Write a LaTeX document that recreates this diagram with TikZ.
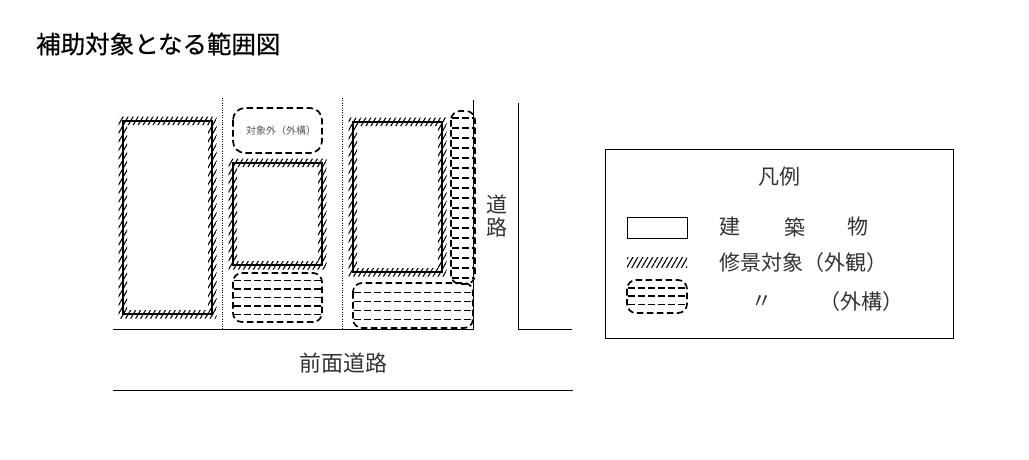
\documentclass[tikz,border=0pt]{standalone}
\usepackage{fontspec}
\newfontfamily\jp{Noto Sans CJK JP}
\newfontfamily\jpt[FakeBold=0.6]{Noto Sans CJK JP}
\usetikzlibrary{patterns.meta}
\newcommand\hbldg[4]{%
  \fill[hatch,even odd rule] (#1-4.5,#2-4.5) rectangle (#3+4.5,#4+4.5) (#1+4,#2+4) rectangle (#3-4,#4-4);
  \draw[bldg] (#1,#2) rectangle (#3,#4);}
\newcommand\extr[5]{%
  \begin{scope}
    \clip[rounded corners=9pt] (#1,#2) rectangle (#3,#4);
    \foreach \yy in {#5} \draw[rowline] (#1+1,\yy) -- (#3,\yy);
  \end{scope}
  \draw[ext] (#1,#2) rectangle (#3,#4);}
\begin{document}
\begin{tikzpicture}[x=1pt,y=-1pt,
  hatch/.style={pattern={Lines[angle=60,distance=4.3pt,line width=1.1pt]}},
  bldg/.style={draw,line width=1.4pt},
  ext/.style={draw,line width=1.7pt,dash pattern=on 6.5pt off 3.5pt,rounded corners=9pt},
  rowline/.style={line width=1.7pt,dash pattern=on 6.5pt off 3.5pt},
  lbl/.style={font=\jp\fontsize{21}{25}\selectfont,text=black!80,inner sep=0pt},
  dotline/.style={line width=0.7pt,dash pattern=on 0.8pt off 1.6pt},
]
\useasboundingbox (0,0) rectangle (1029,459);

% title
\node[lbl,anchor=west,text=black,font=\jpt\fontsize{24.5}{28}\selectfont] (title) at (36,44) {補助対象となる範囲図};

% roads
\draw[line width=1pt] (113,329.5) -- (473,329.5);
\draw[line width=1pt] (473,100) -- (473,329.5);
\draw[line width=1pt] (518,103) -- (518,329.5) -- (572,329.5);
\draw[line width=1pt] (113,390) -- (573,390);

% lot boundaries
\draw[dotline] (222.5,98) -- (222.5,329);
\draw[dotline] (342.5,98) -- (342.5,329);

% buildings with hatched facade bands
\hbldg{123}{121}{212}{314}
\hbldg{233}{163}{322}{265}
\hbldg{353}{122}{442}{272}

% out-of-scope exterior
\draw[ext,rounded corners=12pt] (233,108) rectangle (322,153);
\node[font=\jp\fontsize{10}{12}\selectfont,text=black!65,inner sep=0pt] (out) at (281,130.5) {対象外（外構）};

% exterior works
\extr{233}{273}{322}{322}{280.5,289,297.5,306,314.5}
\extr{451}{111}{475}{284}{118,128,138,148,158,168,178,188,198,208,218,228,238,248,258,268,278}
\extr{353}{283}{473}{328}{292.5,301.5,310.5,319.5}

% road labels
\node[lbl] (road1) at (497,204) {道};
\node[lbl] (road2) at (497,227.5) {路};
\node[lbl,font=\jp\fontsize{22}{26}\selectfont] (front) at (343,363) {前面道路};

% legend
\draw[line width=1pt] (605,149) rectangle (953,338);
\node[lbl] (leg) at (779,177) {凡例};
\draw[line width=1pt] (627,217) rectangle (687,238);
\node[lbl] (k1) at (730,227) {建};
\node[lbl] (k2) at (795,227) {築};
\node[lbl] (k3) at (858,227) {物};
\fill[hatch] (627,257) rectangle (687,267);
\node[lbl,anchor=west] (k4) at (719,263) {修景対象（外観）};
\extr{627}{280}{687}{313}{288,296,304.5}
\node[lbl] (k5) at (762,302) {〃};
\node[lbl] (k6) at (861,302) {（外構）};
\end{tikzpicture}
\end{document}
